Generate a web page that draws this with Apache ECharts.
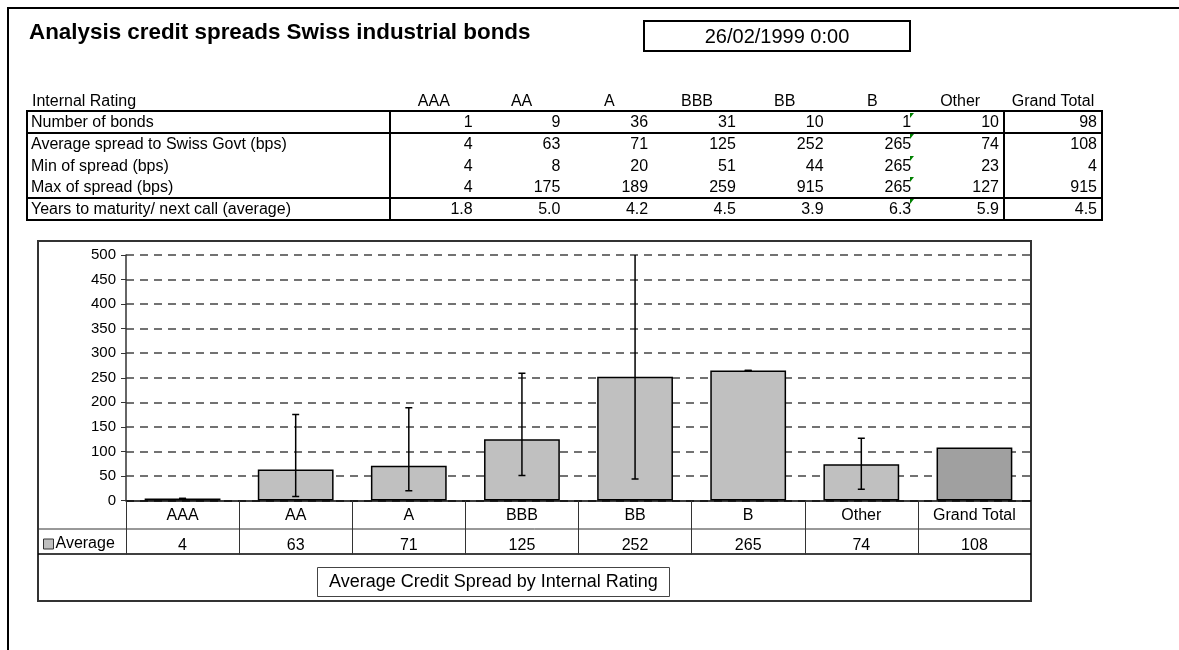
<!DOCTYPE html>
<html><head><meta charset="utf-8">
<script src="https://cdn.jsdelivr.net/npm/echarts@6/dist/echarts.min.js"></script>
<style>
html,body{margin:0;padding:0;background:#fff;}
body{width:1179px;height:650px;position:relative;overflow:hidden;font-family:"Liberation Sans",Arial,sans-serif;color:#000;}
#chart{position:absolute;left:0;top:0;width:1179px;height:650px;}
#sheet{position:absolute;left:0;top:0;width:1179px;height:650px;pointer-events:none;}
.abs{position:absolute;white-space:nowrap;box-sizing:border-box;}
</style></head><body>
<div id="chart"></div>
<div id="sheet"></div>
<script>
// ---- data ----
const ratings = ['AAA','AA','A','BBB','BB','B','Other','Grand Total'];
const numBonds = [1,9,36,31,10,1,10,98];
const avgSpread = [4,63,71,125,252,265,74,108];
const minSpread = [4,8,20,51,44,265,23,4];
const maxSpread = [4,175,189,259,915,265,127,915];
const yearsToMat = [1.8,5.0,4.2,4.5,3.9,6.3,5.9,4.5];
const rowLabels = ['Number of bonds','Average spread to Swiss Govt (bps)','Min of spread (bps)','Max of spread (bps)','Years to maturity/ next call (average)'];
const yMin = 0, yMax = 500, yStep = 50;
const reportTitle = 'Analysis credit spreads Swiss industrial bonds';
const reportDate = '26/02/1999 0:00';
const chartTitle = 'Average Credit Spread by Internal Rating';
const seriesName = 'Average';
const headerLabel = 'Internal Rating';
const errorBarCount = 7; // Grand Total has no range bar

// ---- spreadsheet part (HTML) ----
const sheet = document.getElementById('sheet');
function el(css, text){const d=document.createElement('div');d.className='abs';Object.assign(d.style,css);if(text!=null)d.textContent=text;sheet.appendChild(d);return d;}
el({left:'7px',top:'7px',width:'1190px',height:'660px',borderLeft:'2px solid #000',borderTop:'2px solid #000'});
el({left:'29px',top:'19px',fontSize:'22.4px',fontWeight:'bold',lineHeight:'25px'}, reportTitle);
el({left:'643px',top:'20px',width:'268px',height:'32px',border:'2px solid #000',fontSize:'20px',lineHeight:'28px',textAlign:'center'}, reportDate);

const tblL=27, tblR=1102, labelR=390, gtL=1004, rowTop=111, rowH=21.8;
const colW=(gtL-labelR)/7;
function colBounds(i){return i<7?[labelR+i*colW,labelR+(i+1)*colW]:[gtL,tblR];}
el({left:'32px',top:'92px',fontSize:'16px',lineHeight:'18px'}, headerLabel);
ratings.forEach((r,i)=>{const b=colBounds(i);el({left:b[0]+'px',top:'92px',width:(b[1]-b[0])+'px',textAlign:'center',fontSize:'16px',lineHeight:'18px'}, r);});
const rows=[numBonds,avgSpread,minSpread,maxSpread,yearsToMat.map(v=>v.toFixed(1))];
rows.forEach((vals,r)=>{
  const top=rowTop+r*rowH;
  el({left:'31px',top:top+'px',fontSize:'16px',lineHeight:rowH+'px'}, rowLabels[r]);
  vals.forEach((v,i)=>{const b=colBounds(i);el({left:b[0]+'px',top:top+'px',width:(b[1]-b[0]-5)+'px',textAlign:'right',fontSize:'16px',lineHeight:rowH+'px'}, String(v));});
  el({left:'910px',top:(top+(r===0?2:1))+'px',width:'0',height:'0',borderTop:'5px solid #008000',borderRight:'4px solid transparent'});
});
el({left:(tblL-1)+'px',top:(rowTop-1)+'px',width:(tblR-tblL+2)+'px',height:(5*rowH+2)+'px',border:'2px solid #000'});
el({left:(labelR-1)+'px',top:(rowTop-1)+'px',width:'2px',height:(5*rowH+2)+'px',background:'#000'});
el({left:(gtL-1)+'px',top:(rowTop-1)+'px',width:'2px',height:(5*rowH+2)+'px',background:'#000'});
el({left:(tblL-1)+'px',top:(rowTop+rowH-1)+'px',width:(tblR-tblL+2)+'px',height:'2px',background:'#000'});
el({left:(tblL-1)+'px',top:(rowTop+4*rowH-1)+'px',width:(tblR-tblL+2)+'px',height:'2px',background:'#000'});

// ---- chart ----
const font='"Liberation Sans", Arial, sans-serif';
const chart=echarts.init(document.getElementById('chart'),null,{renderer:'canvas'});
const errData=ratings.slice(0,errorBarCount).map((r,i)=>[i,minSpread[i],maxSpread[i]]);
const option={
  animation:false,
  backgroundColor:'transparent',
  textStyle:{fontFamily:font,color:'#000'},
  title:{text:chartTitle,left:317,top:567,padding:[6,12],borderColor:'#444',borderWidth:1,
    textStyle:{fontSize:18,fontWeight:'normal',color:'#000',fontFamily:font}},
  legend:{data:[seriesName],left:43,top:536,padding:0,itemWidth:10,itemHeight:10,icon:'rect',itemGap:3,
    itemStyle:{color:'#C0C0C0',borderColor:'#333',borderWidth:1},
    textStyle:{fontSize:16,color:'#000',fontFamily:font,padding:[0,0,0,-3]}},
  grid:{left:126,right:148,top:255,bottom:149.5,containLabel:false},
  xAxis:[
    {type:'category',data:ratings,position:'bottom',
     axisLine:{lineStyle:{color:'#000',width:1.5}},
     axisTick:{show:true,length:54,lineStyle:{color:'#333',width:1}},
     axisLabel:{margin:7,fontSize:16,color:'#000',fontFamily:font}},
    {type:'category',data:ratings,position:'bottom',
     axisLine:{show:false},axisTick:{show:false},
     axisLabel:{margin:37,fontSize:16,color:'#000',fontFamily:font,formatter:(v,i)=>String(avgSpread[i])}}
  ],
  yAxis:{type:'value',min:yMin,max:yMax,interval:yStep,
    axisLine:{show:true,lineStyle:{color:'#333',width:1.5}},
    axisTick:{show:true,length:5,lineStyle:{color:'#333'}},
    axisLabel:{fontSize:15,margin:10,color:'#000',fontFamily:font},
    splitLine:{lineStyle:{type:[8,6],color:'#444',width:1.5}}},
  series:[
    {name:seriesName,type:'bar',barWidth:'67%',
     data:avgSpread.map((v,i)=>i===ratings.length-1?{value:v,itemStyle:{color:'#A0A0A0'}}:v),
     itemStyle:{color:'#C0C0C0',borderColor:'#000',borderWidth:1.5},z:2},
    {name:'range',type:'custom',clip:true,z:3,data:errData,encode:{x:0,y:[1,2]},
     renderItem:(params,api)=>{
       const x=api.value(0),lov=api.value(1),hiv=api.value(2);
       const lo=api.coord([x,lov]);
       const hi=api.coord([x,Math.min(hiv,yMax)]);
       const w=3.5, st={stroke:'#000',lineWidth:1.5};
       const ch=[{type:'line',shape:{x1:lo[0],y1:lo[1],x2:hi[0],y2:hi[1]},style:st},
                 {type:'line',shape:{x1:lo[0]-w,y1:lo[1],x2:lo[0]+w,y2:lo[1]},style:st}];
       if(hiv<=yMax) ch.push({type:'line',shape:{x1:hi[0]-w,y1:hi[1],x2:hi[0]+w,y2:hi[1]},style:st});
       return {type:'group',children:ch};
     }}
  ],
  graphic:[
    {type:'rect',shape:{x:38,y:241,width:993,height:360},style:{fill:'none',stroke:'#333',lineWidth:2},silent:true},
    {type:'line',shape:{x1:38,y1:529,x2:1031,y2:529},style:{stroke:'#333',lineWidth:1},silent:true},
    {type:'line',shape:{x1:38,y1:554,x2:1031,y2:554},style:{stroke:'#000',lineWidth:1.5},silent:true}
  ]
};
chart.setOption(option);
</script>
</body></html>
